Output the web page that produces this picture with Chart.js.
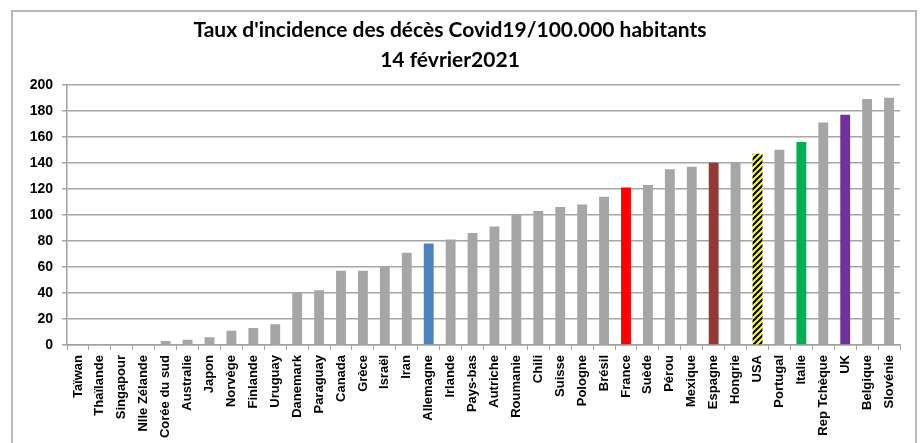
<!DOCTYPE html>
<html>
<head>
<meta charset="utf-8">
<script src="https://cdn.jsdelivr.net/npm/chart.js@4/dist/chart.umd.min.js"></script>
<style>
  html, body { margin: 0; padding: 0; background: #ffffff; }
  #wrap { position: relative; width: 924px; height: 443px; }
  canvas { display: block; }
</style>
</head>
<body>
<div id="wrap"><canvas id="c" width="924" height="443"></canvas></div>
<script>
const titleLines = ["Taux d'incidence des décès Covid19/100.000 habitants", "14 février2021"];
const categories = ["Taïwan", "Thaïlande", "Singapour", "Nlle Zélande", "Corée du sud", "Australie", "Japon", "Norvège", "Finlande", "Uruguay", "Danemark", "Paraguay", "Canada", "Grèce", "Israël", "Iran", "Allemagne", "Irlande", "Pays-bas", "Autriche", "Roumanie", "Chili", "Suisse", "Pologne", "Brésil", "France", "Suède", "Pérou", "Mexique", "Espagne", "Hongrie", "USA", "Portugal", "Italie", "Rep Tchèque", "UK", "Belgique", "Slovénie"];
const values = [0.5, 0.5, 0.5, 0.5, 3, 4, 6, 11, 13, 16, 40, 42, 57, 57, 60, 71, 78, 81, 86, 91, 100, 103, 106, 108, 114, 121, 123, 135, 137, 140, 140, 147, 150, 156, 171, 177, 189, 190];
const yTicks = [0, 20, 40, 60, 80, 100, 120, 140, 160, 180, 200];
const highlight = { "Allemagne": "#4f81bd", "France": "#ff0000", "Espagne": "#953735", "Italie": "#00b050", "UK": "#7030a0" };
const baseColor = "#a6a6a6";

function hatchPattern() {
  const s = 6;
  const pc = document.createElement('canvas');
  pc.width = s; pc.height = s;
  const g = pc.getContext('2d');
  g.fillStyle = '#ffff00';
  g.fillRect(0, 0, s, s);
  g.strokeStyle = '#000000';
  g.lineWidth = 2;
  g.beginPath();
  g.moveTo(-1, s + 1); g.lineTo(s + 1, -1);
  g.moveTo(-1, 1); g.lineTo(1, -1);
  g.moveTo(s - 1, s + 1); g.lineTo(s + 1, s - 1);
  g.stroke();
  return document.getElementById('c').getContext('2d').createPattern(pc, 'repeat');
}
const usaPattern = hatchPattern();

const bg = categories.map(c => c === 'USA' ? usaPattern : (highlight[c] || baseColor));

const framePlugin = {
  id: 'frame',
  beforeDraw(chart) {
    const ctx = chart.ctx;
    ctx.save();
    ctx.fillStyle = '#ffffff';
    ctx.fillRect(0, 0, chart.width, chart.height);
    ctx.strokeStyle = '#b8b8b8';
    ctx.lineWidth = 2;
    ctx.strokeRect(12, 11, 904, 450);
    ctx.restore();
  }
};

new Chart(document.getElementById('c'), {
  type: 'bar',
  data: {
    labels: categories,
    datasets: [{
      data: values,
      backgroundColor: bg,
      borderWidth: 0,
      minBarLength: 1,
      barPercentage: 0.45,
      categoryPercentage: 1.0
    }]
  },
  options: {
    responsive: false,
    animation: false,
    devicePixelRatio: 1,
    layout: { padding: { left: 0, right: 24, top: 0, bottom: 0 } },
    plugins: {
      legend: { display: false },
      tooltip: { enabled: false },
      title: {
        display: true,
        text: titleLines,
        color: '#000000',
        font: { family: 'Lato', size: 21, weight: 'bold', lineHeight: 1.4 },
        padding: { top: 16, bottom: 10 }
      }
    },
    scales: {
      x: {
        grid: { display: true, drawOnChartArea: false, drawTicks: true, tickLength: 5, color: '#a0a0a0', offset: true },
        border: { display: true, color: '#a0a0a0', width: 1.5 },
        ticks: {
          autoSkip: false,
          minRotation: 90,
          maxRotation: 90,
          color: '#000000',
          padding: 5,
          font: { family: 'Liberation Sans', size: 13, weight: 'bold' }
        },
        afterFit(scale) { scale.height = 98; }
      },
      y: {
        min: 0,
        max: 200,
        afterBuildTicks(scale) { scale.ticks = yTicks.map(v => ({ value: v })); },
        grid: { color: '#a6a6a6', lineWidth: 1.5, drawTicks: true, tickLength: 5 },
        border: { display: true, color: '#a0a0a0', width: 1.5 },
        ticks: {
          color: '#000000',
          padding: 9,
          font: { family: 'Liberation Sans', size: 14, weight: 'bold' }
        },
        afterFit(scale) { scale.width = 67; }
      }
    }
  },
  plugins: [framePlugin]
});
</script>
</body>
</html>
